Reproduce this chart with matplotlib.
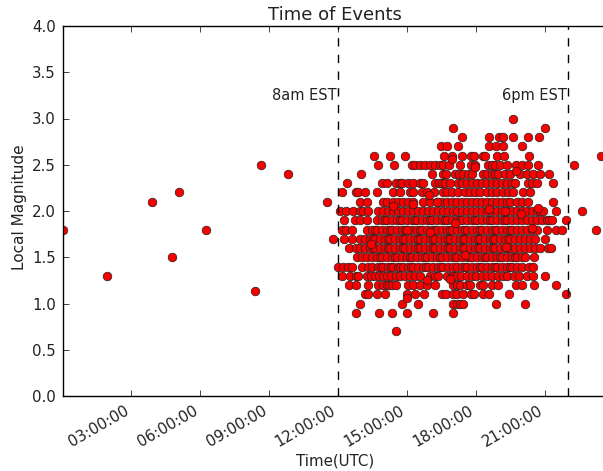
import datetime as dt
import matplotlib
matplotlib.use('Agg')
import matplotlib.pyplot as plt
import matplotlib.dates as mdates

# Event times in hours UTC, grouped by local magnitude (rows of the catalogue)
m07 = [14.5]
m09 = [12.78, 13.78, 14.35, 15.0, 16.13, 16.98]
m10 = [12.96, 14.78, 15.48, 16.98, 17.17, 17.3, 17.43, 18.85, 20.13]
m11 = [13.17, 13.3, 13.7, 14.04, 15.0, 15.35, 15.74, 16.52, 16.68, 16.98, 17.17, 17.43, 17.78, 17.9, 18.3, 18.55, 19.43, 21.9]
m12 = [12.48, 12.78, 13.3, 13.74, 13.96, 14.1, 14.2, 14.35, 14.52, 15.04, 15.26, 15.57, 15.87, 16.2, 16.98, 17.17, 17.3, 17.6, 17.74, 18.17, 18.3, 18.7, 18.95, 19.74, 20.0, 20.52, 21.48]
m13 = [12.17, 12.52, 12.78, 12.87, 13.26, 13.43, 13.6, 13.78, 13.96, 14.1, 14.3, 14.52, 14.7, 14.91, 15.13, 15.35, 15.57, 16.0, 16.2, 16.35, 16.74, 16.96, 17.0, 17.17, 17.35, 17.6, 17.83, 18.0, 18.26, 18.48, 18.7, 18.95, 19.17, 19.35, 19.65, 19.87, 20.2, 20.48, 21.0]
m14 = [12.0, 12.22, 12.43, 12.6, 13.04, 13.3, 13.48, 13.74, 13.85, 13.96, 14.17, 14.28, 14.39, 14.6, 14.7, 14.83, 15.04, 15.15, 15.26, 15.48, 15.7, 15.8, 15.91, 16.13, 16.35, 16.45, 16.57, 16.78, 17.0, 17.17, 17.39, 17.5, 17.6, 17.83, 18.04, 18.15, 18.26, 18.48, 18.7, 18.8, 18.9, 19.13, 19.35, 19.45, 19.57, 19.78, 20.0, 20.3, 20.48]
m15 = [12.83, 13.04, 13.26, 13.48, 13.7, 13.8, 13.91, 14.13, 14.35, 14.45, 14.57, 14.78, 15.0, 15.1, 15.22, 15.43, 15.65, 15.76, 15.87, 16.09, 16.3, 16.42, 16.52, 16.74, 16.96, 17.06, 17.17, 17.39, 17.6, 17.72, 17.83, 18.04, 18.26, 18.36, 18.48, 18.7, 18.9, 19.02, 19.13, 19.35, 19.57, 19.68, 19.78, 20.0, 20.13, 20.52]
m16 = [12.48, 12.78, 12.96, 13.17, 13.39, 13.5, 13.61, 13.83, 14.04, 14.15, 14.26, 14.48, 14.7, 14.8, 14.91, 15.13, 15.35, 15.46, 15.57, 15.78, 16.0, 16.11, 16.22, 16.43, 16.65, 16.76, 16.87, 17.09, 17.3, 17.41, 17.52, 17.74, 17.96, 18.07, 18.17, 18.39, 18.61, 18.72, 18.83, 19.04, 19.26, 19.37, 19.48, 19.7, 19.91, 20.13, 20.35, 20.57, 20.78, 21.13, 21.26]
m17 = [11.76, 12.26, 12.61, 12.96, 13.17, 13.39, 13.5, 13.61, 13.83, 14.04, 14.15, 14.26, 14.48, 14.7, 14.8, 14.91, 15.13, 15.35, 15.46, 15.57, 15.78, 16.0, 16.11, 16.22, 16.43, 16.65, 16.76, 16.87, 17.09, 17.3, 17.41, 17.52, 17.74, 17.96, 18.07, 18.17, 18.39, 18.61, 18.72, 18.83, 19.04, 19.26, 19.37, 19.48, 19.7, 19.91, 20.13, 20.35, 20.57, 21.0]
m18 = [12.17, 12.35, 12.61, 13.26, 13.48, 13.59, 13.7, 13.91, 14.13, 14.24, 14.35, 14.57, 14.78, 14.89, 15.0, 15.22, 15.43, 15.54, 15.65, 15.87, 16.09, 16.2, 16.3, 16.52, 16.74, 16.85, 16.96, 17.17, 17.39, 17.5, 17.6, 17.83, 18.04, 18.15, 18.26, 18.48, 18.7, 18.81, 18.9, 19.13, 19.35, 19.46, 19.57, 19.78, 20.0, 20.22, 20.43, 20.65, 21.09, 21.48, 21.74, 23.2]
m19 = [12.26, 12.74, 12.96, 13.26, 13.7, 13.91, 14.02, 14.13, 14.35, 14.57, 14.68, 14.78, 15.0, 15.22, 15.33, 15.43, 15.65, 15.87, 15.98, 16.09, 16.3, 16.52, 16.63, 16.74, 16.96, 17.17, 17.28, 17.39, 17.6, 17.83, 17.94, 18.04, 18.26, 18.48, 18.59, 18.7, 18.9, 19.13, 19.24, 19.35, 19.57, 19.78, 20.0, 20.22, 20.43, 20.65, 20.87, 21.09, 21.17, 21.3, 21.9]
m20 = [12.09, 12.35, 12.65, 12.96, 13.09, 13.3, 13.74, 13.96, 14.17, 14.39, 14.6, 14.83, 15.04, 15.26, 15.48, 15.7, 15.91, 16.13, 16.35, 16.57, 16.78, 17.0, 17.17, 17.39, 17.6, 17.83, 18.04, 18.26, 18.48, 18.7, 18.9, 19.13, 19.35, 19.57, 19.78, 20.0, 20.22, 20.43, 20.65, 20.78, 20.9, 21.45, 22.6]
m21 = [11.52, 12.96, 13.26, 13.96, 14.13, 14.39, 14.6, 14.83, 15.04, 15.26, 15.7, 16.0, 16.3, 16.52, 16.74, 16.96, 17.17, 17.39, 17.6, 17.83, 18.04, 18.26, 18.48, 18.7, 18.9, 19.13, 19.35, 19.46, 19.76, 20.0, 20.25, 21.35]
m22 = [12.17, 12.78, 12.87, 13.17, 13.7, 14.39, 14.7, 15.13, 15.26, 15.65, 15.87, 16.17, 16.55, 16.73, 16.96, 17.2, 17.5, 17.74, 17.96, 18.17, 18.48, 18.7, 18.9, 19.17, 19.39, 19.6, 20.04, 20.35]
m23 = [12.39, 13.91, 14.13, 14.52, 14.7, 14.78, 15.04, 15.26, 15.57, 15.7, 16.2, 16.39, 16.5, 16.64, 16.86, 17.2, 17.39, 17.6, 17.83, 18.04, 18.26, 18.48, 18.7, 18.9, 19.13, 19.35, 19.57, 19.7, 20.25, 20.43, 20.65, 21.35]
m24 = [13.0, 16.08, 16.55, 16.68, 17.07, 17.26, 17.43, 17.65, 17.83, 18.3, 18.47, 18.7, 18.8, 18.95, 19.25, 19.46, 19.9, 20.2, 20.47, 20.78, 21.17]
m25 = [13.74, 14.43, 15.2, 15.35, 15.57, 15.78, 16.0, 16.2, 16.43, 16.55, 16.8, 17.3, 17.78, 17.96, 18.5, 18.7, 18.8, 19.04, 19.35, 19.74, 20.0, 20.26, 20.7]
m26 = [13.57, 14.26, 14.91, 16.6, 17.39, 17.78, 17.9, 18.3, 18.4, 18.9, 19.2, 20.3]
m27 = [16.47, 16.73, 17.2, 18.55, 18.85, 19.17, 20.0]
m28 = [17.39, 18.55, 19.0, 19.17, 19.6, 20.25, 20.72]
m29 = [16.98, 21.0]
m30 = [19.6]

row_mags = [0.7, 0.9, 1.0, 1.1, 1.2, 1.3, 1.4, 1.5, 1.6, 1.7, 1.8, 1.9, 2.0, 2.1, 2.2, 2.3, 2.4, 2.5, 2.6, 2.7, 2.8, 2.9, 3.0]
row_times = [m07, m09, m10, m11, m12, m13, m14, m15, m16, m17, m18, m19, m20, m21, m22, m23, m24, m25, m26, m27, m28, m29, m30]

# Events away from the main rows
other_times = [0.04, 1.96, 3.91, 4.78, 5.09, 6.26, 8.39, 8.65, 9.83, 22.26, 23.4,
               14.39, 15.0, 16.0, 13.43, 15.87, 16.87, 15.0, 15.96, 16.3, 15.26,
               16.96, 17.96, 19.74, 16.96, 19.26, 18.55, 20.7, 19.96, 20.43, 17.09,
               19.3, 17.52]
other_mags = [1.8, 1.3, 2.1, 1.5, 2.2, 1.8, 1.14, 2.5, 2.4, 2.5, 2.6,
              2.05, 1.8, 1.77, 1.64, 1.25, 1.27, 1.06, 2.17, 2.1, 2.08,
              2.6, 2.48, 2.43, 2.56, 2.0, 2.02, 2.03, 1.97, 1.82, 1.87,
              1.61, 1.52]

title = 'Time of Events'
xlabel = 'Time(UTC)'
ylabel = 'Local Magnitude'
vlines_hours = [12, 22]
vline_labels = ['8am EST', '6pm EST']

plt.rcParams['font.family'] = 'DejaVu Sans'
day = dt.datetime(2015, 1, 1)
def to_x(h):
    return mdates.date2num(day + dt.timedelta(hours=h))

fig = plt.figure(figsize=(6.03, 4.71), dpi=100)
ax = fig.add_axes([63/603, 75/471, 555/603, 370/471])
xs, ys = [], []
for mag, times in zip(row_mags, row_times):
    for t in times:
        xs.append(to_x(t)); ys.append(mag)
xs += [to_x(t) for t in other_times]
ys += other_mags
ax.plot(xs, ys, 'o', color='#f80000', markeredgecolor='#222222', markeredgewidth=0.5, markersize=6.2, ls='none')

for h, lab in zip(vlines_hours, vline_labels):
    ax.axvline(to_x(h), color='black', ls='--', lw=1, dashes=(6, 6))
    ax.text(to_x(h - 0.07), 3.25, lab, ha='right', va='center', fontsize=10.5, color='#222222')

ax.set_xlim(to_x(0.04), to_x(24.16))
ax.set_ylim(0, 4)
ax.xaxis.set_major_locator(mdates.HourLocator(byhour=range(3, 24, 3)))
ax.xaxis.set_major_formatter(mdates.DateFormatter('%H:%M:%S'))
ax.set_yticks([0, 0.5, 1, 1.5, 2, 2.5, 3, 3.5, 4])
ax.tick_params(axis='both', direction='in', top=True, right=True, length=4, width=0.6, labelsize=10.8, colors='#222222', pad=5)
for lbl in ax.get_xticklabels():
    lbl.set_rotation(30); lbl.set_ha('right')
for s in ax.spines.values():
    s.set_linewidth(1)
fig.text(335/603, 1-15/471, title, ha='center', va='center', fontsize=13, color='#222222')
fig.text(335/603, 1-461/471, xlabel, ha='center', va='center', fontsize=10.8, color='#222222')
fig.text(20/603, 1-207/471, ylabel, ha='center', va='center', rotation=90, fontsize=11, color='#222222')
fig.savefig('out.png', dpi=100)
